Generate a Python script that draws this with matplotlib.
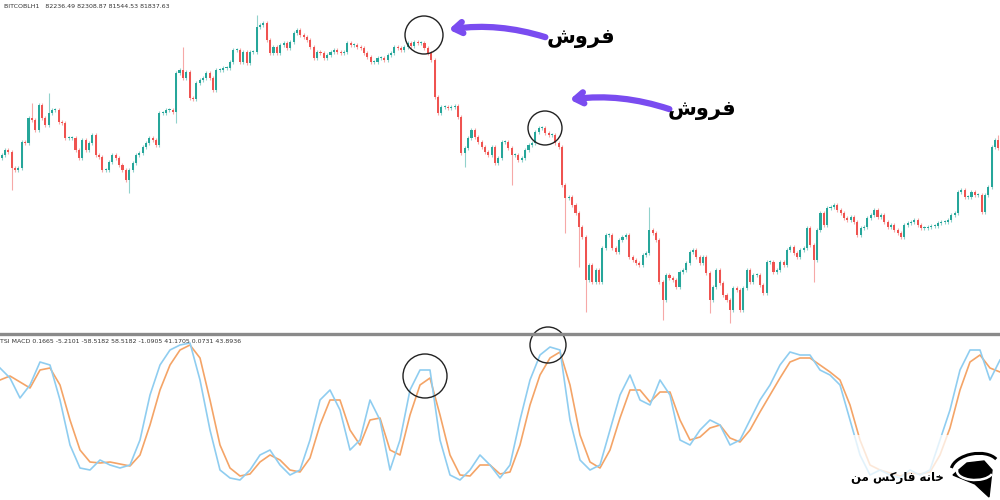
import matplotlib.pyplot as plt
import numpy as np
from matplotlib.patches import Arc, Ellipse, FancyArrowPatch

# close prices (chart units), one per hourly candle
closes = [
    178, 183, 181, 165, 163, 165, 191, 190, 215, 213, 203, 228, 215, 208, 220, 223, 223, 211, 210, 195,
    195, 195, 183, 175, 193, 183, 190, 198, 178, 176, 163, 163, 171, 178, 175, 168, 163, 153, 163, 170,
    178, 180, 186, 190, 195, 193, 188, 220, 220, 223, 223, 221, 260, 263, 255, 261, 235, 234, 250, 253,
    255, 260, 255, 243, 263, 263, 265, 265, 271, 283, 283, 271,
    281, 270, 281, 281, 306, 308, 310, 293, 280, 286, 280, 288, 290, 285, 291, 300, 303, 298, 296, 293,
    286, 275, 281, 280, 275, 278, 281, 283, 281, 280, 281, 290, 288, 288, 286, 285, 280, 276, 271, 271,
    275, 275, 273, 278, 280, 286, 285, 283, 286, 290, 287, 291, 290, 290, 285, 280, 273, 236, 220, 226,
    226, 225, 226, 227, 216, 180, 185, 195, 203, 196, 191, 186, 181, 178, 186, 170,
    175, 191, 191, 185, 178, 178, 173, 175, 183, 188, 190, 201, 205, 205, 200, 198, 198, 190, 186, 148,
    135, 136, 128, 120, 106, 96, 53, 68, 51, 63, 51, 85, 98, 98, 85, 81, 93, 96, 98, 76,
    73, 70, 68, 78, 80, 103, 100, 93, 51, 33, 58, 55, 53, 46, 61, 63, 70, 81, 83, 76,
    70, 76, 60, 33, 46, 63, 50, 38, 33, 23, 45, 43, 23, 45,
    63, 51, 58, 58, 48, 40, 71, 71, 61, 63, 71, 68, 83, 86, 80, 76, 83, 85, 105, 88,
    73, 103, 120, 108, 125, 126, 128, 123, 120, 115, 113, 116, 111, 98, 105, 106, 115, 118, 123, 116,
    118, 111, 106, 108, 103, 100, 96, 108, 110, 111, 113, 108, 105, 105, 106, 107, 107, 110, 111, 111,
    113, 118, 120, 141, 143, 136, 136, 141, 138, 138, 121, 138, 146, 186, 193, 185,
]
# long wicks (candle index -> extreme)
long_highs = {9: 230, 14: 240, 54: 286, 76: 318, 193: 126, 297: 198}
long_lows = {3: 143, 38: 140, 52: 210, 138: 166, 152: 148, 168: 100, 172: 66,
             174: 21, 197: 13, 211: 20, 217: 10, 242: 51}

# indicator panel, one sample every 10 px
ind_x = list(range(0, 1001, 10))
fast_line = [
    122, 112, 92, 105, 128, 125, 90, 45, 22, 20, 30, 25, 22, 25, 50, 95, 125, 140, 145, 147,
    110, 60, 20, 12, 10, 20, 35, 40, 25, 15, 20, 50, 90, 100, 80, 40, 50, 90, 70, 20,
    50, 100, 120, 120, 50, 15, 10, 20, 35, 25, 12, 25, 70, 110, 135, 143, 140, 70, 30, 20,
    25, 60, 95, 115, 90, 85, 110, 95, 50, 45, 60, 70, 65, 45, 50, 70, 90, 105, 125, 138,
    135, 135, 120, 115, 105, 70, 35, 15, 20, 15, 12, 20, 15, 20, 50, 80, 120, 140, 140, 110,
    130,
]
slow_line = [
    110, 114, 108, 102, 120, 122, 105, 70, 40, 28, 27, 28, 26, 24, 35, 65, 100, 125, 140, 145,
    132, 90, 45, 22, 14, 16, 28, 35, 30, 20, 18, 32, 65, 90, 90, 60, 45, 70, 72, 40,
    35, 75, 105, 112, 75, 35, 15, 14, 25, 25, 16, 18, 45, 85, 115, 132, 138, 105, 55, 28,
    22, 40, 72, 100, 100, 88, 98, 98, 70, 50, 53, 62, 65, 52, 48, 60, 78, 95, 112, 128,
    132, 132, 125, 118, 110, 85, 50, 25, 20, 17, 14, 17, 16, 18, 35, 62, 100, 128, 135, 122,
    118,
]

header_top = "BITCOBLH1   82236.49 82308.87 81544.53 81837.63"
header_bottom = "TSI MACD 0.1665 -5.2101 -58.5182 58.5182 -1.0905 41.1705 0.0731 43.8936"
sell_label = "\uFEB5\uFEED\uFEAE\uFED3"  # فروش (shaped, visual order)
brand_label = "\uFEE6\uFEE3 \uFEB2\uFEDB\uFEAD\uFE8E\uFED3 \uFEEA\uFEE7\uFE8E\uFEA7"  # خانه فارکس من

UP = '#26a69a'
DOWN = '#ef5350'
PURPLE = '#7a4cf0'

fig = plt.figure(figsize=(10, 5), dpi=100)
ax = fig.add_axes([0, 0.334, 1, 0.666])
ax2 = fig.add_axes([0, 0, 1, 0.324])

closes = np.array(closes, dtype=float)
opens = np.concatenate([[closes[0] - 3], closes[:-1]])
idx = np.arange(len(closes))
body_lo = np.minimum(opens, closes)
body_hi = np.maximum(opens, closes)
highs = body_hi + 2
lows = body_lo - 2
for i, v in long_highs.items():
    highs[i] = v
for i, v in long_lows.items():
    lows[i] = v
colors = np.where(closes >= opens, UP, DOWN)

ax.vlines(idx, lows, highs, colors=colors, linewidth=0.8, alpha=0.5)
ax.bar(idx, np.maximum(body_hi - body_lo, 1.2), bottom=body_lo, width=0.62, color=colors, linewidth=0)
ax.set_xlim(-0.5, len(closes) - 0.5)
ax.set_ylim(0, 333)
ax.axis('off')

ax2.plot(ind_x, slow_line, color='#f4a467', linewidth=1.2)
ax2.plot(ind_x, fast_line, color='#8fcdf0', linewidth=1.2)
ax2.set_xlim(0, 1000)
ax2.set_ylim(-10, 152)
ax2.axis('off')

# separator between panels
fig.add_artist(plt.Line2D([0, 1], [0.333, 0.333], color='#8a8a8a', linewidth=2.4))

fig.text(0.004, 0.993, header_top, fontsize=4.5, color='#333333', va='top')
fig.text(0.0, 0.322, header_bottom, fontsize=4.5, color='#333333', va='top')

# circles around the tops
for cx, cy, r in [(424, 35, 19), (545, 128, 17), (425, 376, 22), (548, 345, 18)]:
    fig.add_artist(Ellipse((cx / 1000, 1 - cy / 500), 2 * r / 1000, 2 * r / 500,
                           transform=fig.transFigure, fill=False, edgecolor='#222222', linewidth=1.0))

# arrows + labels
for (x0, y0), (x1, y1), (tx, ty) in [((548, 38), (446, 30), (581, 38)),
                                      ((672, 110), (567, 100), (702, 110))]:
    fig.add_artist(FancyArrowPatch((x0 / 1000, 1 - y0 / 500), (x1 / 1000, 1 - y1 / 500),
                                   transform=fig.transFigure, connectionstyle='arc3,rad=0.12',
                                   arrowstyle='->,head_length=6,head_width=4',
                                   color=PURPLE, linewidth=4.5, capstyle='round'))
    fig.text(tx / 1000, 1 - ty / 500, sell_label, fontsize=15, fontweight='bold',
             ha='center', va='center', family=['DejaVu Sans'])

# logo area: faded lines + brand
fig.add_artist(plt.Rectangle((0.845, 0.0), 0.155, 0.13, transform=fig.transFigure,
                             facecolor='white', alpha=0.75, edgecolor='none'))
logo = [(953, 475), (967, 463), (984, 461), (992, 470), (989, 497), (975, 484)]
fig.add_artist(plt.Polygon([(px / 1000, 1 - py / 500) for px, py in logo], closed=True,
                           transform=fig.transFigure, color='black'))
fig.add_artist(Arc((0.975, 1 - 471 / 500), 0.036, 0.036, angle=-20, theta1=190, theta2=360,
                   transform=fig.transFigure, color='white', linewidth=1.8))
fig.add_artist(Arc((0.975, 1 - 468 / 500), 0.046, 0.06, angle=-20, theta1=60, theta2=200,
                   transform=fig.transFigure, color='black', linewidth=2.2))
fig.text(0.897, 1 - 478 / 500, brand_label, fontsize=8.5, fontweight='bold', ha='center', va='center',
         family=['DejaVu Sans'])

fig.savefig('out.png', dpi=100)
